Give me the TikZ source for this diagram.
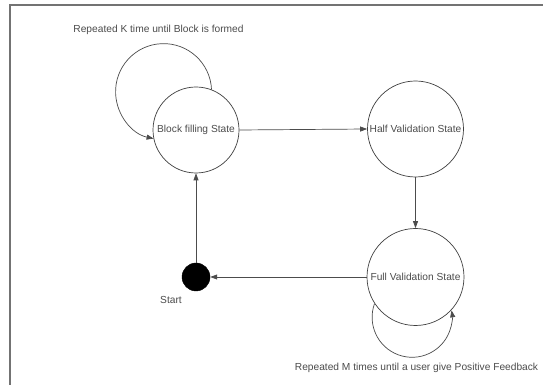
\documentclass[tikz,border=0pt]{standalone}
\usepackage{fontspec}
\setmainfont{Liberation Sans}
\usetikzlibrary{arrows.meta}
\begin{document}
\begin{tikzpicture}[x=1pt,y=1pt,
  state/.style={circle,draw=black!75,line width=0.7pt,inner sep=0pt,
    text=black!70,font=\fontsize{10.2}{12}\selectfont},
  conn/.style={draw=black!70,line width=0.7pt,-{Triangle[length=7pt,width=5pt]}},
  lbl/.style={text=black!70,font=\fontsize{10.2}{12}\selectfont,inner sep=0pt}]
\useasboundingbox (0,0) rectangle (543,385);
\fill[white] (0,0) rectangle (543,385);
% frame
\draw[black!55,line width=2pt] (10,0) -- (10,380) -- (543,380);
% states
\node[state,minimum size=86pt] (Block) at (196,255) {Block filling State};
\node[state,minimum size=96pt] (Half) at (415.5,256) {Half Validation State};
\node[state,minimum size=97pt] (Full) at (415.5,108) {Full Validation State};
\node[circle,fill=black,draw=black,minimum size=28pt,inner sep=0pt] (Start) at (196,108) {};
% labels
\node[lbl] (startlbl) at (171,85) {Start};
\node[lbl] (toplbl) at (158.5,355) {Repeated K time until Block is formed};
\node[lbl] (botlbl) at (416.5,17) {Repeated M times until a user give Positive Feedback};
% connectors
\draw[conn] (Block.east) -- (Half.west);
\draw[conn] (Half.south) -- (Full.north);
\draw[conn] (Full.west) -- (Start.east);
\draw[conn] (Start.north) -- (Block.south);
\draw[conn] (Block.69) arc[start angle=2.5,end angle=258,radius=48];
\draw[conn] (Full.213) arc[start angle=160,end angle=370,radius=40];
\end{tikzpicture}
\end{document}
